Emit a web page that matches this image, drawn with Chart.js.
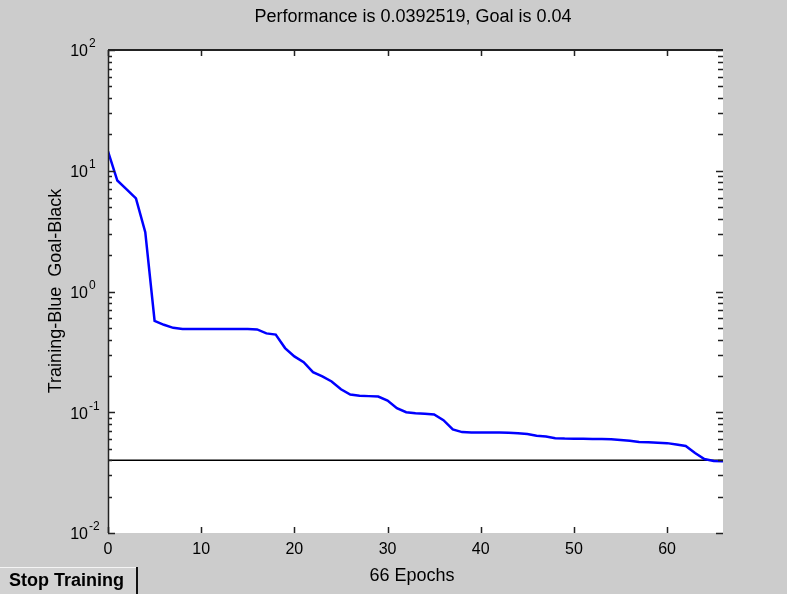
<!DOCTYPE html>
<html>
<head>
<meta charset="utf-8">
<script src="https://cdn.jsdelivr.net/npm/chart.js@4.4.1/dist/chart.umd.min.js"></script>
<style>
  html, body { margin: 0; padding: 0; background: #cccccc; }
  #c { display: block; }
</style>
</head>
<body>
<canvas id="c" width="787" height="594"></canvas>
<script>
// ---- Data ----
const epochs = [0,1,2,3,4,5,6,7,8,9,10,11,12,13,14,15,16,17,18,19,20,
  21,22,23,24,25,26,27,28,29,30,31,32,33,34,35,36,37,38,39,40,
  41,42,43,44,45,46,47,48,49,50,51,52,53,54,55,56,57,58,59,60,
  61,62,63,64,65,66];
const trainingPerf = [14.5, 8.3, 7.0, 5.9, 3.1, 0.57, 0.53, 0.50, 0.49, 0.49, 0.49,
  0.49, 0.49, 0.49, 0.49, 0.49, 0.485, 0.45, 0.44, 0.34, 0.29,
  0.26, 0.215, 0.198, 0.18, 0.155, 0.14, 0.137, 0.136, 0.135, 0.125,
  0.108, 0.100, 0.098, 0.097, 0.096, 0.086, 0.072, 0.0685, 0.068, 0.068,
  0.068, 0.068, 0.0675, 0.067, 0.066, 0.064, 0.063, 0.061, 0.0605, 0.0603,
  0.0602, 0.060, 0.060, 0.0598, 0.059, 0.058, 0.0567, 0.0565, 0.056, 0.0555,
  0.054, 0.0525, 0.046, 0.041, 0.0395, 0.0392519];
const goalValue = 0.04;
const xTickValues = [0, 10, 20, 30, 40, 50, 60];
const yTickExponents = [-2, -1, 0, 1, 2];
const titleText = "Performance is 0.0392519, Goal is 0.04";
const yLabelText = "Training-Blue  Goal-Black";
const xLabelText = "66 Epochs";
const buttonText = "Stop Training";

const FONT = "'Liberation Sans', Arial, Helvetica, sans-serif";

const matlabPlugin = {
  id: 'matlab',
  beforeDraw(chart) {
    const ctx = chart.ctx, a = chart.chartArea;
    ctx.save();
    ctx.fillStyle = '#cccccc';
    ctx.fillRect(0, 0, chart.width, chart.height);
    ctx.fillStyle = '#ffffff';
    ctx.fillRect(a.left, a.top, a.right - a.left, a.bottom - a.top);
    ctx.restore();
  },
  afterDraw(chart) {
    const ctx = chart.ctx, a = chart.chartArea;
    const xs = chart.scales.x, ys = chart.scales.y;
    ctx.save();
    // box lines (top and left are visible in the reference)
    ctx.strokeStyle = '#222222';
    ctx.lineWidth = 2;
    ctx.beginPath();
    ctx.moveTo(a.left, a.top); ctx.lineTo(a.right, a.top);
    ctx.stroke();
    ctx.lineWidth = 1.5;
    ctx.beginPath();
    ctx.moveTo(a.left + 0.5, a.top); ctx.lineTo(a.left + 0.5, a.bottom);
    ctx.stroke();

    // y ticks (major + minor), inward, both sides
    ctx.lineWidth = 1.5;
    ctx.strokeStyle = '#222222';
    for (let e = yTickExponents[0]; e < yTickExponents[yTickExponents.length - 1]; e++) {
      for (let m = 2; m <= 9; m++) {
        const y = Math.round(ys.getPixelForValue(m * Math.pow(10, e))) + 0.5;
        ctx.beginPath();
        ctx.moveTo(a.left, y); ctx.lineTo(a.left + 4, y);
        ctx.moveTo(a.right, y); ctx.lineTo(a.right - 5, y);
        ctx.stroke();
      }
    }
    yTickExponents.forEach(e => {
      const y = Math.round(ys.getPixelForValue(Math.pow(10, e))) + 0.5;
      ctx.beginPath();
      ctx.moveTo(a.left, y); ctx.lineTo(a.left + 7, y);
      ctx.moveTo(a.right, y); ctx.lineTo(a.right - 7, y);
      ctx.stroke();
    });
    // x ticks, inward at bottom and top
    xTickValues.forEach(v => {
      const x = Math.round(xs.getPixelForValue(v)) + 0.5;
      ctx.beginPath();
      ctx.moveTo(x, a.bottom); ctx.lineTo(x, a.bottom - 6);
      ctx.moveTo(x, a.top); ctx.lineTo(x, a.top + 6);
      ctx.stroke();
    });

    // y tick labels 10^e
    ctx.fillStyle = '#000000';
    yTickExponents.forEach(e => {
      const y = ys.getPixelForValue(Math.pow(10, e));
      ctx.font = '16px ' + FONT;
      ctx.textAlign = 'right';
      ctx.textBaseline = 'middle';
      ctx.fillText('10', 88, y + 2);
      ctx.font = '12px ' + FONT;
      ctx.textAlign = 'left';
      ctx.fillText(String(e), 89, y - 6);
    });

    // title
    ctx.font = '18px ' + FONT;
    ctx.textAlign = 'center';
    ctx.textBaseline = 'middle';
    ctx.fillText(titleText, 413, 17);
    // x label
    ctx.fillText(xLabelText, 412, 576);
    // y label
    ctx.save();
    ctx.translate(56, 291);
    ctx.rotate(-Math.PI / 2);
    ctx.fillText(yLabelText, 0, 0);
    ctx.restore();

    // Stop Training button
    ctx.fillStyle = '#d2d2d2';
    ctx.fillRect(0, 567, 137, 27);
    ctx.strokeStyle = '#f4f4f4';
    ctx.lineWidth = 1;
    ctx.beginPath();
    ctx.moveTo(0, 567.5); ctx.lineTo(136, 567.5);
    ctx.stroke();
    ctx.strokeStyle = '#111111';
    ctx.lineWidth = 2;
    ctx.beginPath();
    ctx.moveTo(137, 567); ctx.lineTo(137, 594);
    ctx.stroke();
    ctx.fillStyle = '#000000';
    ctx.font = 'bold 18px ' + FONT;
    ctx.textAlign = 'left';
    ctx.textBaseline = 'middle';
    ctx.fillText(buttonText, 9, 581);
    ctx.restore();
  }
};

new Chart(document.getElementById('c'), {
  type: 'line',
  data: {
    datasets: [
      {
        label: 'Training',
        data: epochs.map((e, i) => ({ x: e, y: trainingPerf[i] })),
        borderColor: '#0000ff',
        borderWidth: 2.5,
        pointRadius: 0,
        tension: 0,
        fill: false
      },
      {
        label: 'Goal',
        data: [{ x: epochs[0], y: goalValue }, { x: epochs[epochs.length - 1], y: goalValue }],
        borderColor: '#000000',
        borderWidth: 1.5,
        pointRadius: 0,
        tension: 0,
        fill: false
      }
    ]
  },
  options: {
    responsive: false,
    animation: false,
    devicePixelRatio: 1,
    layout: { padding: { left: 0, top: 50, right: 64, bottom: 33 } },
    plugins: { legend: { display: false }, tooltip: { enabled: false }, title: { display: false } },
    scales: {
      x: {
        type: 'linear',
        min: 0,
        max: 66,
        afterBuildTicks: s => { s.ticks = xTickValues.map(v => ({ value: v })); },
        afterFit: s => { s.height = 28; },
        ticks: {
          color: '#000000',
          font: { family: FONT, size: 16 },
          padding: 7,
          maxRotation: 0,
          autoSkip: false
        },
        grid: { display: false, drawTicks: false },
        border: { display: false }
      },
      y: {
        type: 'logarithmic',
        min: 0.01,
        max: 100,
        afterBuildTicks: s => { s.ticks = yTickExponents.map(e => ({ value: Math.pow(10, e) })); },
        afterFit: s => { s.width = 108; },
        ticks: { display: false },
        grid: { display: false, drawTicks: false },
        border: { display: false }
      }
    }
  },
  plugins: [matlabPlugin]
});
</script>
</body>
</html>
